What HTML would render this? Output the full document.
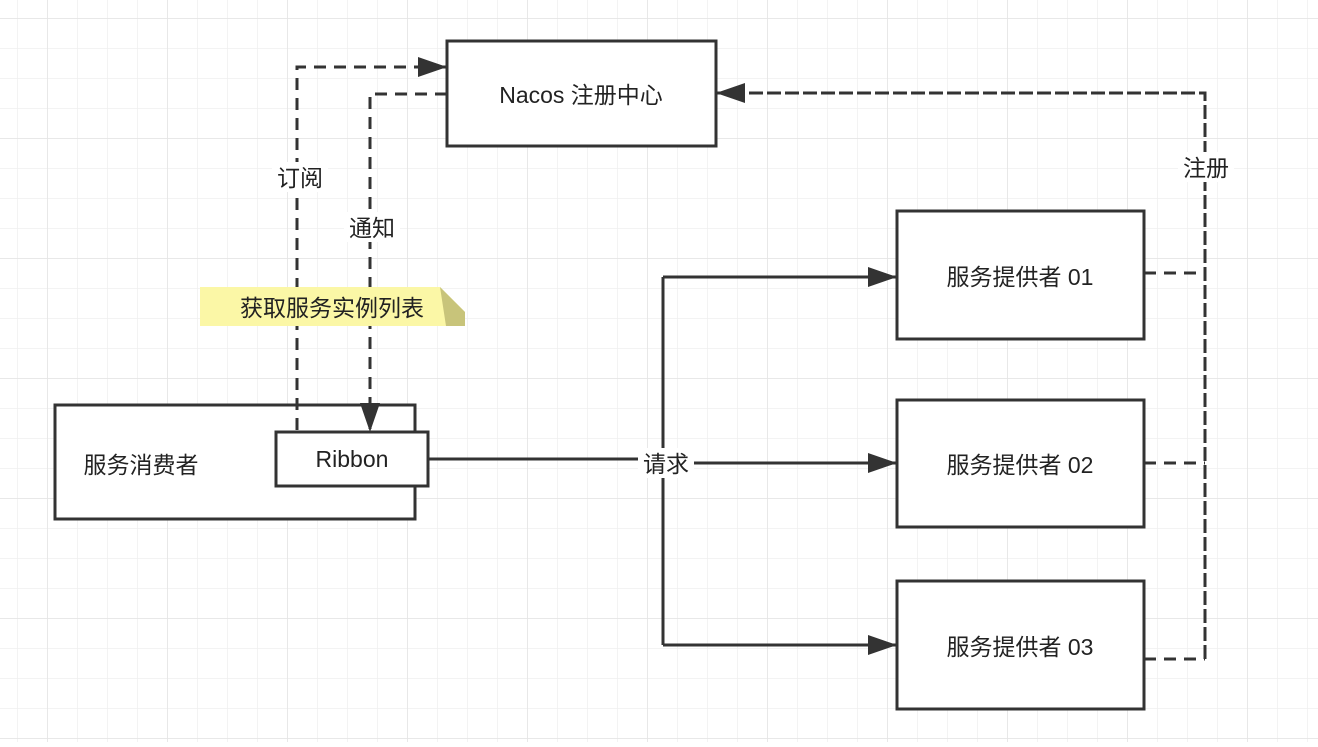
<!DOCTYPE html>
<html><head><meta charset="utf-8"><style>
html,body{margin:0;padding:0;background:#fff;}
body{width:1318px;height:742px;overflow:hidden;}
svg text{font-family:"Liberation Sans","Noto Sans CJK SC",sans-serif;fill:#222;}
</style></head><body>
<svg width="1318" height="742" xmlns="http://www.w3.org/2000/svg">
<defs>
<pattern id="g" x="17" y="18" width="30" height="30" patternUnits="userSpaceOnUse">
<path d="M0 0H30M0 0V30" stroke="#efefef" stroke-width="1.5" fill="none"/>
</pattern>
<pattern id="G" x="47" y="18" width="120" height="120" patternUnits="userSpaceOnUse">
<path d="M0 0H120M0 0V120" stroke="#e4e4e4" stroke-width="1.5" fill="none"/>
</pattern>
<marker id="a" markerWidth="30" markerHeight="22" refX="28" refY="11" orient="auto" markerUnits="userSpaceOnUse" viewBox="0 0 30 22">
<path d="M0 1L29 11L0 21Z" fill="#333"/>
</marker>
</defs>
<rect width="1318" height="742" fill="url(#g)"/>
<rect width="1318" height="742" fill="url(#G)"/>
<rect x="55" y="405" width="360" height="114" stroke="#333" stroke-width="3" fill="#fff"/>
<g stroke="#333" stroke-width="3" fill="none">
<path d="M428 459H663"/>
<path d="M663 277V645"/>
<path d="M663 277H896" marker-end="url(#a)" />
<path d="M663 463H896" marker-end="url(#a)"/>
<path d="M663 645H896" marker-end="url(#a)"/>
<path d="M297 430V67H446" stroke-dasharray="12,8" marker-end="url(#a)"/>
<path d="M447 94H370V431" stroke-dasharray="12,8" marker-end="url(#a)"/>
<path d="M1144 273H1205M1144 463H1205M1144 659H1205" stroke-dasharray="12,8"/>
<path d="M1205 659V93H717" stroke-dasharray="14,4" marker-end="url(#a)"/>
</g>
<g stroke="#333" stroke-width="3" fill="#fff">
<rect x="447" y="41" width="269" height="105"/>
<rect x="897" y="211" width="247" height="128"/>
<rect x="897" y="400" width="247" height="127"/>
<rect x="897" y="581" width="247" height="128"/>
<rect x="276" y="432" width="152" height="54"/>
</g>
<path d="M200 287H440L465 312V326H200Z" fill="#fbf7a6"/>
<path d="M440 287L465 312V326H446Z" fill="#c8c47a"/>
<g font-size="23" text-anchor="middle">
<text x="581" y="103">Nacos 注册中心</text>
<text x="1020" y="285">服务提供者 01</text>
<text x="1020" y="473">服务提供者 02</text>
<text x="1020" y="655">服务提供者 03</text>
<text x="141" y="473">服务消费者</text>
<text x="352" y="467">Ribbon</text>
<text x="332" y="316">获取服务实例列表</text>
</g>
<g font-size="23" text-anchor="middle">
<rect x="272" y="162" width="56" height="30" fill="#fff"/>
<text x="300" y="186">订阅</text>
<rect x="344" y="212" width="56" height="30" fill="#fff"/>
<text x="372" y="236">通知</text>
<rect x="638" y="448" width="56" height="30" fill="#fff"/>
<text x="666" y="472">请求</text>
<rect x="1178" y="152" width="56" height="30" fill="#fff"/>
<text x="1206" y="176">注册</text>
</g>
</svg>
</body></html>
